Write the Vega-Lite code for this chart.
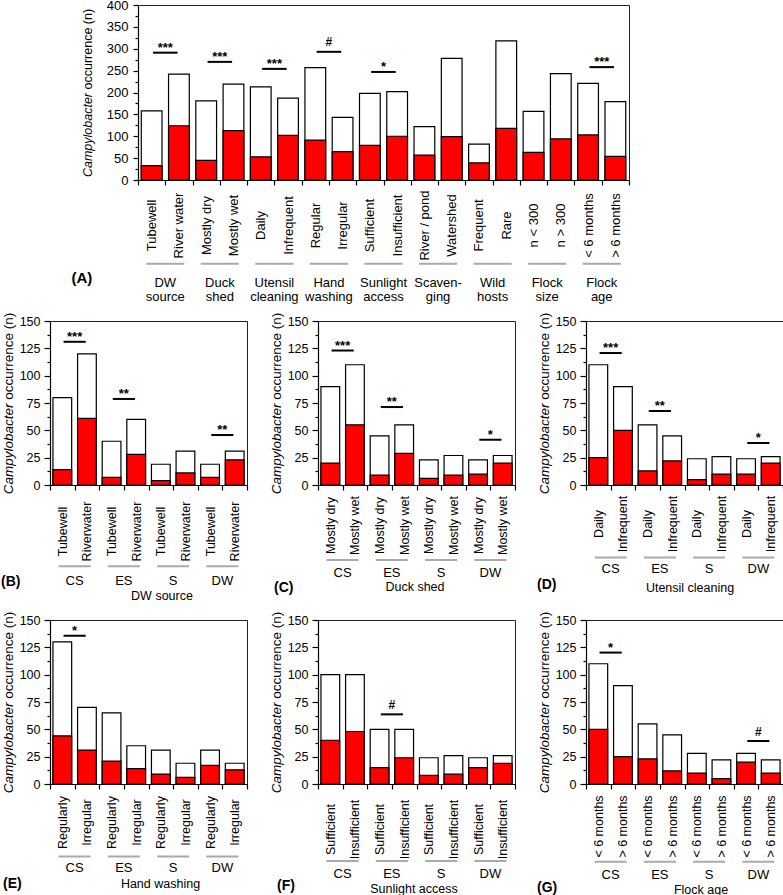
{
"$schema": "https://vega.github.io/schema/vega-lite/v6.json",
"padding": {"left": 0, "top": -2, "right": 2, "bottom": 0},
"config": {
  "font": "Liberation Sans",
  "view": {"stroke": "#222", "strokeWidth": 1},
  "axis": {"grid": false, "domainColor": "black", "tickColor": "black", "labelColor": "black", "titleColor": "black", "titleFontWeight": "normal", "domainWidth": 1.2, "tickWidth": 1.2},
  "title": {"color": "black"}
},
"datasets": {
  "bars": [
    {"p":"A","k":"01|Tubewell","t":158,"v":33},
    {"p":"A","k":"02|River water","t":242,"v":124},
    {"p":"A","k":"03|Mostly dry","t":181,"v":45},
    {"p":"A","k":"04|Mostly wet","t":219,"v":113},
    {"p":"A","k":"05|Daily","t":213,"v":53},
    {"p":"A","k":"06|Infrequent","t":187,"v":102},
    {"p":"A","k":"07|Regular","t":257,"v":91},
    {"p":"A","k":"08|Irregular","t":143,"v":65},
    {"p":"A","k":"09|Sufficient","t":198,"v":79},
    {"p":"A","k":"10|Insufficient","t":202,"v":100},
    {"p":"A","k":"11|River / pond","t":122,"v":57},
    {"p":"A","k":"12|Watershed","t":278,"v":99},
    {"p":"A","k":"13|Frequent","t":82,"v":39},
    {"p":"A","k":"14|Rare","t":318,"v":118},
    {"p":"A","k":"15|n < 300","t":157,"v":63},
    {"p":"A","k":"16|n > 300","t":243,"v":94},
    {"p":"A","k":"17|< 6 months","t":221,"v":103},
    {"p":"A","k":"18|> 6 months","t":179,"v":54},
    {"p":"B","k":"1|Tubewell","t":80,"v":14},
    {"p":"B","k":"2|Riverwater","t":120,"v":61},
    {"p":"B","k":"3|Tubewell","t":40,"v":7},
    {"p":"B","k":"4|Riverwater","t":60,"v":28},
    {"p":"B","k":"5|Tubewell","t":19,"v":4},
    {"p":"B","k":"6|Riverwater","t":31,"v":11},
    {"p":"B","k":"7|Tubewell","t":19,"v":7},
    {"p":"B","k":"8|Riverwater","t":31,"v":23},
    {"p":"C","k":"1|Mostly dry","t":90,"v":20},
    {"p":"C","k":"2|Mostly wet","t":110,"v":55},
    {"p":"C","k":"3|Mostly dry","t":45,"v":9},
    {"p":"C","k":"4|Mostly wet","t":55,"v":29},
    {"p":"C","k":"5|Mostly dry","t":23,"v":6},
    {"p":"C","k":"6|Mostly wet","t":27,"v":9},
    {"p":"C","k":"7|Mostly dry","t":23,"v":10},
    {"p":"C","k":"8|Mostly wet","t":27,"v":20},
    {"p":"D","k":"1|Daily","t":110,"v":25},
    {"p":"D","k":"2|Infrequent","t":90,"v":50},
    {"p":"D","k":"3|Daily","t":55,"v":13},
    {"p":"D","k":"4|Infrequent","t":45,"v":22},
    {"p":"D","k":"5|Daily","t":24,"v":5},
    {"p":"D","k":"6|Infrequent","t":26,"v":10},
    {"p":"D","k":"7|Daily","t":24,"v":10},
    {"p":"D","k":"8|Infrequent","t":26,"v":20},
    {"p":"E","k":"1|Regularly","t":130,"v":44},
    {"p":"E","k":"2|Irregular","t":70,"v":31},
    {"p":"E","k":"3|Regularly","t":65,"v":21},
    {"p":"E","k":"4|Irregular","t":35,"v":14},
    {"p":"E","k":"5|Regularly","t":31,"v":9},
    {"p":"E","k":"6|Irregular","t":19,"v":6},
    {"p":"E","k":"7|Regularly","t":31,"v":17},
    {"p":"E","k":"8|Irregular","t":19,"v":13},
    {"p":"F","k":"1|Sufficient","t":100,"v":40},
    {"p":"F","k":"2|Insufficient","t":100,"v":48},
    {"p":"F","k":"3|Sufficient","t":50,"v":15},
    {"p":"F","k":"4|Insufficient","t":50,"v":24},
    {"p":"F","k":"5|Sufficient","t":24,"v":8},
    {"p":"F","k":"6|Insufficient","t":26,"v":9},
    {"p":"F","k":"7|Sufficient","t":24,"v":15},
    {"p":"F","k":"8|Insufficient","t":26,"v":19},
    {"p":"G","k":"1|< 6 months","t":110,"v":50},
    {"p":"G","k":"2|> 6 months","t":90,"v":25},
    {"p":"G","k":"3|< 6 months","t":55,"v":23},
    {"p":"G","k":"4|> 6 months","t":45,"v":12},
    {"p":"G","k":"5|< 6 months","t":28,"v":10},
    {"p":"G","k":"6|> 6 months","t":22,"v":5},
    {"p":"G","k":"7|< 6 months","t":28,"v":20},
    {"p":"G","k":"8|> 6 months","t":22,"v":10}
  ],
  "groups": [
    {"p":"A","k1":"01|Tubewell","k2":"02|River water","g":"DW\nsource"},
    {"p":"A","k1":"03|Mostly dry","k2":"04|Mostly wet","g":"Duck\nshed"},
    {"p":"A","k1":"05|Daily","k2":"06|Infrequent","g":"Utensil\ncleaning"},
    {"p":"A","k1":"07|Regular","k2":"08|Irregular","g":"Hand\nwashing"},
    {"p":"A","k1":"09|Sufficient","k2":"10|Insufficient","g":"Sunlight\naccess"},
    {"p":"A","k1":"11|River / pond","k2":"12|Watershed","g":"Scaven-\nging"},
    {"p":"A","k1":"13|Frequent","k2":"14|Rare","g":"Wild\nhosts"},
    {"p":"A","k1":"15|n < 300","k2":"16|n > 300","g":"Flock\nsize"},
    {"p":"A","k1":"17|< 6 months","k2":"18|> 6 months","g":"Flock\nage"},
    {"p":"B","k1":"1|Tubewell","k2":"2|Riverwater","g":"CS"},
    {"p":"B","k1":"3|Tubewell","k2":"4|Riverwater","g":"ES"},
    {"p":"B","k1":"5|Tubewell","k2":"6|Riverwater","g":"S"},
    {"p":"B","k1":"7|Tubewell","k2":"8|Riverwater","g":"DW"},
    {"p":"C","k1":"1|Mostly dry","k2":"2|Mostly wet","g":"CS"},
    {"p":"C","k1":"3|Mostly dry","k2":"4|Mostly wet","g":"ES"},
    {"p":"C","k1":"5|Mostly dry","k2":"6|Mostly wet","g":"S"},
    {"p":"C","k1":"7|Mostly dry","k2":"8|Mostly wet","g":"DW"},
    {"p":"D","k1":"1|Daily","k2":"2|Infrequent","g":"CS"},
    {"p":"D","k1":"3|Daily","k2":"4|Infrequent","g":"ES"},
    {"p":"D","k1":"5|Daily","k2":"6|Infrequent","g":"S"},
    {"p":"D","k1":"7|Daily","k2":"8|Infrequent","g":"DW"},
    {"p":"E","k1":"1|Regularly","k2":"2|Irregular","g":"CS"},
    {"p":"E","k1":"3|Regularly","k2":"4|Irregular","g":"ES"},
    {"p":"E","k1":"5|Regularly","k2":"6|Irregular","g":"S"},
    {"p":"E","k1":"7|Regularly","k2":"8|Irregular","g":"DW"},
    {"p":"F","k1":"1|Sufficient","k2":"2|Insufficient","g":"CS"},
    {"p":"F","k1":"3|Sufficient","k2":"4|Insufficient","g":"ES"},
    {"p":"F","k1":"5|Sufficient","k2":"6|Insufficient","g":"S"},
    {"p":"F","k1":"7|Sufficient","k2":"8|Insufficient","g":"DW"},
    {"p":"G","k1":"1|< 6 months","k2":"2|> 6 months","g":"CS"},
    {"p":"G","k1":"3|< 6 months","k2":"4|> 6 months","g":"ES"},
    {"p":"G","k1":"5|< 6 months","k2":"6|> 6 months","g":"S"},
    {"p":"G","k1":"7|< 6 months","k2":"8|> 6 months","g":"DW"}
  ],
  "sig": [
    {"p":"A","k1":"01|Tubewell","k2":"02|River water","y":291,"s":"***"},
    {"p":"A","k1":"03|Mostly dry","k2":"04|Mostly wet","y":270,"s":"***"},
    {"p":"A","k1":"05|Daily","k2":"06|Infrequent","y":254,"s":"***"},
    {"p":"A","k1":"07|Regular","k2":"08|Irregular","y":293,"s":"#"},
    {"p":"A","k1":"09|Sufficient","k2":"10|Insufficient","y":247,"s":"*"},
    {"p":"A","k1":"17|< 6 months","k2":"18|> 6 months","y":258,"s":"***"},
    {"p":"B","k1":"1|Tubewell","k2":"2|Riverwater","y":131,"s":"***"},
    {"p":"B","k1":"3|Tubewell","k2":"4|Riverwater","y":78.7,"s":"**"},
    {"p":"B","k1":"7|Tubewell","k2":"8|Riverwater","y":45.7,"s":"**"},
    {"p":"C","k1":"1|Mostly dry","k2":"2|Mostly wet","y":123,"s":"***"},
    {"p":"C","k1":"3|Mostly dry","k2":"4|Mostly wet","y":71.3,"s":"**"},
    {"p":"C","k1":"7|Mostly dry","k2":"8|Mostly wet","y":41.4,"s":"*"},
    {"p":"D","k1":"1|Daily","k2":"2|Infrequent","y":120.7,"s":"***"},
    {"p":"D","k1":"3|Daily","k2":"4|Infrequent","y":67.7,"s":"**"},
    {"p":"D","k1":"7|Daily","k2":"8|Infrequent","y":38.4,"s":"*"},
    {"p":"E","k1":"1|Regularly","k2":"2|Irregular","y":135.6,"s":"*"},
    {"p":"F","k1":"3|Sufficient","k2":"4|Insufficient","y":63.7,"s":"#"},
    {"p":"G","k1":"1|< 6 months","k2":"2|> 6 months","y":120.2,"s":"*"},
    {"p":"G","k1":"7|< 6 months","k2":"8|> 6 months","y":39.3,"s":"#"}
  ]
},
"bounds": "flush",
"spacing": 316,
"vconcat": [
 {
  "hconcat": [
   {"width": 78, "height": 175, "data": {"values": []}, "mark": "point", "encoding": {}, "view": {"stroke": null}},
   {
    "width": 491, "height": 175,
    "title": {"text": "(A)", "orient": "bottom", "anchor": "start", "frame": "bounds", "offset": 0, "dx": -10, "dy": -33, "fontSize": 15, "fontWeight": "bold"},
    "resolve": {"axis": {"y": "independent"}},
    "layer": [
     {"data": {"name": "bars"}, "transform": [{"filter": "datum.p==='A'"}],
      "mark": {"type": "bar", "fill": "white", "stroke": "black", "strokeWidth": 1.2, "width": {"band": 0.76}},
      "encoding": {
       "x": {"field": "k", "type": "nominal", "scale": {"paddingInner": 0, "paddingOuter": 0},
             "axis": {"title": null, "labelExpr": "split(datum.value,'|')[1]", "labelAngle": -90, "labelAlign": "center", "labelBaseline": "middle", "labelPadding": 40, "tickSize": 5, "tickBand": "extent", "labelFontSize": 13}},
       "y": {"field": "t", "type": "quantitative", "scale": {"domain": [0, 400], "nice": false},
             "axis": {"title": "occurrence (n)", "values": [0,50,100,150,200,250,300,350,400], "tickSize": 5, "labelPadding": 5, "labelFontSize": 13, "titleFontSize": 12.5, "titleX": -43.5, "titleY": 43.7}}
      }},
     {"data": {"name": "bars"}, "transform": [{"filter": "datum.p==='A'"}],
      "mark": {"type": "bar", "fill": "#ff0000", "stroke": "black", "strokeWidth": 1.2, "width": {"band": 0.76}},
      "encoding": {
       "x": {"field": "k", "type": "nominal"},
       "y": {"field": "v", "type": "quantitative", "scale": {"domain": [0, 400], "nice": false},
             "axis": {"orient": "left", "values": [25,75,125,175,225,275,325,375], "tickSize": 3, "labels": false, "domain": false, "title": "Campylobacter", "titleFontStyle": "italic", "titleFontSize": 12.5, "titleX": -43.5, "titleY": 129.5}}
      }},
     {"data": {"name": "sig"}, "transform": [{"filter": "datum.p==='A'"}],
      "mark": {"type": "rule", "stroke": "black", "strokeWidth": 2},
      "encoding": {"x": {"field": "k1", "type": "nominal", "bandPosition": 0.55}, "x2": {"field": "k2", "bandPosition": 0.45}, "y": {"field": "y", "type": "quantitative", "axis": null}}},
     {"data": {"name": "sig"}, "transform": [{"filter": "datum.p==='A' && datum.s!=='#'"}],
      "mark": {"type": "text", "fontSize": 13, "fontWeight": "bold", "baseline": "alphabetic", "dy": -1},
      "encoding": {"x": {"field": "k1", "type": "nominal", "bandPosition": 1}, "y": {"field": "y", "type": "quantitative", "axis": null}, "text": {"field": "s"}}},
     {"data": {"name": "sig"}, "transform": [{"filter": "datum.p==='A' && datum.s==='#'"}],
      "mark": {"type": "text", "fontSize": 12, "fontWeight": "bold", "baseline": "alphabetic", "dy": -6},
      "encoding": {"x": {"field": "k1", "type": "nominal", "bandPosition": 1}, "y": {"field": "y", "type": "quantitative", "axis": null}, "text": {"field": "s"}}},
     {"data": {"name": "groups"}, "transform": [{"filter": "datum.p==='A'"}],
      "mark": {"type": "rule", "stroke": "#aaaaaa", "strokeWidth": 2},
      "encoding": {"x": {"field": "k1", "type": "nominal", "bandPosition": 0.3}, "x2": {"field": "k2", "bandPosition": 0.7}, "y": {"datum": -191.3, "axis": null}}},
     {"data": {"name": "groups"}, "transform": [{"filter": "datum.p==='A'"}],
      "mark": {"type": "text", "fontSize": 13, "baseline": "middle", "lineBreak": "\n", "lineHeight": 14},
      "encoding": {"x": {"field": "k1", "type": "nominal", "bandPosition": 1}, "y": {"datum": -235.4, "axis": null}, "text": {"field": "g"}}}
    ]
   }
  ],
  "spacing": 10,
  "bounds": "flush"
 },
 {
  "bounds": "flush",
  "spacing": 299,
  "vconcat": [
   {
    "bounds": "flush",
    "spacing": 71,
    "hconcat": [
     {
      "width": 197, "height": 164,
      "title": {"text": "(B)", "orient": "bottom", "anchor": "start", "frame": "bounds", "offset": 0, "dx": 0, "dy": -27, "fontSize": 14, "fontWeight": "bold"},
      "resolve": {"axis": {"y": "independent"}},
      "layer": [
       {"data": {"name": "bars"}, "transform": [{"filter": "datum.p==='B'"}],
        "mark": {"type": "bar", "fill": "white", "stroke": "black", "strokeWidth": 1.2, "width": {"band": 0.76}},
        "encoding": {
         "x": {"field": "k", "type": "nominal", "scale": {"paddingInner": 0, "paddingOuter": 0},
               "axis": {"title": "DW source", "labelExpr": "split(datum.value,'|')[1]", "labelAngle": -90, "labelAlign": "center", "labelBaseline": "middle", "labelPadding": 41, "tickSize": 5, "tickBand": "extent", "labelFontSize": 12.5, "titleFontSize": 12.5, "titleX": 111.5, "titleY": 104.5}},
         "y": {"field": "t", "type": "quantitative", "scale": {"domain": [0, 150], "nice": false},
               "axis": {"title": "occurrence (n)", "values": [0,25,50,75,100,125,150], "tickSize": 6, "labelPadding": 4, "labelFontSize": 12.5, "titleFontSize": 13.5, "titleX": -35, "titleY": 34.7}}
        }},
       {"data": {"name": "bars"}, "transform": [{"filter": "datum.p==='B'"}],
        "mark": {"type": "bar", "fill": "#ff0000", "stroke": "black", "strokeWidth": 1.2, "width": {"band": 0.76}},
        "encoding": {
         "x": {"field": "k", "type": "nominal"},
         "y": {"field": "v", "type": "quantitative", "scale": {"domain": [0, 150], "nice": false},
               "axis": {"orient": "left", "values": [12.5,37.5,62.5,87.5,112.5,137.5], "tickSize": 3, "labels": false, "domain": false, "title": "Campylobacter", "titleFontStyle": "italic", "titleFontSize": 13.5, "titleX": -35, "titleY": 127.4}}
        }},
       {"data": {"name": "sig"}, "transform": [{"filter": "datum.p==='B'"}],
        "mark": {"type": "rule", "stroke": "black", "strokeWidth": 2},
        "encoding": {"x": {"field": "k1", "type": "nominal", "bandPosition": 0.55}, "x2": {"field": "k2", "bandPosition": 0.45}, "y": {"field": "y", "type": "quantitative", "axis": null}}},
       {"data": {"name": "sig"}, "transform": [{"filter": "datum.p==='B' && datum.s!=='#'"}],
        "mark": {"type": "text", "fontSize": 13, "fontWeight": "bold", "baseline": "alphabetic", "dy": -1},
        "encoding": {"x": {"field": "k1", "type": "nominal", "bandPosition": 1}, "y": {"field": "y", "type": "quantitative", "axis": null}, "text": {"field": "s"}}},
       {"data": {"name": "groups"}, "transform": [{"filter": "datum.p==='B'"}],
        "mark": {"type": "rule", "stroke": "#aaaaaa", "strokeWidth": 2},
        "encoding": {"x": {"field": "k1", "type": "nominal", "bandPosition": 0.35}, "x2": {"field": "k2", "bandPosition": 0.65}, "y": {"datum": -74.4, "axis": null}}},
       {"data": {"name": "groups"}, "transform": [{"filter": "datum.p==='B'"}],
        "mark": {"type": "text", "fontSize": 13, "baseline": "middle"},
        "encoding": {"x": {"field": "k1", "type": "nominal", "bandPosition": 1}, "y": {"datum": -87.5, "axis": null}, "text": {"field": "g"}}}
      ]
     },
     {
      "width": 197, "height": 164,
      "title": {"text": "(C)", "orient": "bottom", "anchor": "start", "frame": "bounds", "offset": 0, "dx": 5, "dy": -12, "fontSize": 14, "fontWeight": "bold"},
      "resolve": {"axis": {"y": "independent"}},
      "layer": [
       {"data": {"name": "bars"}, "transform": [{"filter": "datum.p==='C'"}],
        "mark": {"type": "bar", "fill": "white", "stroke": "black", "strokeWidth": 1.2, "width": {"band": 0.76}},
        "encoding": {
         "x": {"field": "k", "type": "nominal", "scale": {"paddingInner": 0, "paddingOuter": 0},
               "axis": {"title": "Duck shed", "labelExpr": "split(datum.value,'|')[1]", "labelAngle": -90, "labelAlign": "center", "labelBaseline": "middle", "labelPadding": 35, "tickSize": 5, "tickBand": "extent", "labelFontSize": 12.5, "titleFontSize": 12.5, "titleX": 96.5, "titleY": 95.8}},
         "y": {"field": "t", "type": "quantitative", "scale": {"domain": [0, 150], "nice": false},
               "axis": {"title": "occurrence (n)", "values": [0,25,50,75,100,125,150], "tickSize": 6, "labelPadding": 4, "labelFontSize": 12.5, "titleFontSize": 13.5, "titleX": -35, "titleY": 34.7}}
        }},
       {"data": {"name": "bars"}, "transform": [{"filter": "datum.p==='C'"}],
        "mark": {"type": "bar", "fill": "#ff0000", "stroke": "black", "strokeWidth": 1.2, "width": {"band": 0.76}},
        "encoding": {
         "x": {"field": "k", "type": "nominal"},
         "y": {"field": "v", "type": "quantitative", "scale": {"domain": [0, 150], "nice": false},
               "axis": {"orient": "left", "values": [12.5,37.5,62.5,87.5,112.5,137.5], "tickSize": 3, "labels": false, "domain": false, "title": "Campylobacter", "titleFontStyle": "italic", "titleFontSize": 13.5, "titleX": -35, "titleY": 127.4}}
        }},
       {"data": {"name": "sig"}, "transform": [{"filter": "datum.p==='C'"}],
        "mark": {"type": "rule", "stroke": "black", "strokeWidth": 2},
        "encoding": {"x": {"field": "k1", "type": "nominal", "bandPosition": 0.55}, "x2": {"field": "k2", "bandPosition": 0.45}, "y": {"field": "y", "type": "quantitative", "axis": null}}},
       {"data": {"name": "sig"}, "transform": [{"filter": "datum.p==='C' && datum.s!=='#'"}],
        "mark": {"type": "text", "fontSize": 13, "fontWeight": "bold", "baseline": "alphabetic", "dy": -1},
        "encoding": {"x": {"field": "k1", "type": "nominal", "bandPosition": 1}, "y": {"field": "y", "type": "quantitative", "axis": null}, "text": {"field": "s"}}},
       {"data": {"name": "groups"}, "transform": [{"filter": "datum.p==='C'"}],
        "mark": {"type": "rule", "stroke": "#aaaaaa", "strokeWidth": 2},
        "encoding": {"x": {"field": "k1", "type": "nominal", "bandPosition": 0.35}, "x2": {"field": "k2", "bandPosition": 0.65}, "y": {"datum": -68.6, "axis": null}}},
       {"data": {"name": "groups"}, "transform": [{"filter": "datum.p==='C'"}],
        "mark": {"type": "text", "fontSize": 13, "baseline": "middle"},
        "encoding": {"x": {"field": "k1", "type": "nominal", "bandPosition": 1}, "y": {"datum": -80.2, "axis": null}, "text": {"field": "g"}}}
      ]
     },
     {
      "width": 197, "height": 164,
      "title": {"text": "(D)", "orient": "bottom", "anchor": "start", "frame": "bounds", "offset": 0, "dx": 0, "dy": -16, "fontSize": 14, "fontWeight": "bold"},
      "resolve": {"axis": {"y": "independent"}},
      "layer": [
       {"data": {"name": "bars"}, "transform": [{"filter": "datum.p==='D'"}],
        "mark": {"type": "bar", "fill": "white", "stroke": "black", "strokeWidth": 1.2, "width": {"band": 0.76}},
        "encoding": {
         "x": {"field": "k", "type": "nominal", "scale": {"paddingInner": 0, "paddingOuter": 0},
               "axis": {"title": "Utensil cleaning", "labelExpr": "split(datum.value,'|')[1]", "labelAngle": -90, "labelAlign": "center", "labelBaseline": "middle", "labelPadding": 33.5, "tickSize": 5, "tickBand": "extent", "labelFontSize": 12.5, "titleFontSize": 12.5, "titleX": 103.5, "titleY": 96.5}},
         "y": {"field": "t", "type": "quantitative", "scale": {"domain": [0, 150], "nice": false},
               "axis": {"title": "occurrence (n)", "values": [0,25,50,75,100,125,150], "tickSize": 6, "labelPadding": 4, "labelFontSize": 12.5, "titleFontSize": 13.5, "titleX": -35, "titleY": 34.7}}
        }},
       {"data": {"name": "bars"}, "transform": [{"filter": "datum.p==='D'"}],
        "mark": {"type": "bar", "fill": "#ff0000", "stroke": "black", "strokeWidth": 1.2, "width": {"band": 0.76}},
        "encoding": {
         "x": {"field": "k", "type": "nominal"},
         "y": {"field": "v", "type": "quantitative", "scale": {"domain": [0, 150], "nice": false},
               "axis": {"orient": "left", "values": [12.5,37.5,62.5,87.5,112.5,137.5], "tickSize": 3, "labels": false, "domain": false, "title": "Campylobacter", "titleFontStyle": "italic", "titleFontSize": 13.5, "titleX": -35, "titleY": 127.4}}
        }},
       {"data": {"name": "sig"}, "transform": [{"filter": "datum.p==='D'"}],
        "mark": {"type": "rule", "stroke": "black", "strokeWidth": 2},
        "encoding": {"x": {"field": "k1", "type": "nominal", "bandPosition": 0.55}, "x2": {"field": "k2", "bandPosition": 0.45}, "y": {"field": "y", "type": "quantitative", "axis": null}}},
       {"data": {"name": "sig"}, "transform": [{"filter": "datum.p==='D' && datum.s!=='#'"}],
        "mark": {"type": "text", "fontSize": 13, "fontWeight": "bold", "baseline": "alphabetic", "dy": -1},
        "encoding": {"x": {"field": "k1", "type": "nominal", "bandPosition": 1}, "y": {"field": "y", "type": "quantitative", "axis": null}, "text": {"field": "s"}}},
       {"data": {"name": "groups"}, "transform": [{"filter": "datum.p==='D'"}],
        "mark": {"type": "rule", "stroke": "#aaaaaa", "strokeWidth": 2},
        "encoding": {"x": {"field": "k1", "type": "nominal", "bandPosition": 0.35}, "x2": {"field": "k2", "bandPosition": 0.65}, "y": {"datum": -66.2, "axis": null}}},
       {"data": {"name": "groups"}, "transform": [{"filter": "datum.p==='D'"}],
        "mark": {"type": "text", "fontSize": 13, "baseline": "middle"},
        "encoding": {"x": {"field": "k1", "type": "nominal", "bandPosition": 1}, "y": {"datum": -76.5, "axis": null}, "text": {"field": "g"}}}
      ]
     }
    ]
   },
   {
    "bounds": "flush",
    "spacing": 71,
    "hconcat": [
     {
      "width": 197, "height": 164,
      "title": {"text": "(E)", "orient": "bottom", "anchor": "start", "frame": "bounds", "offset": 0, "dx": 2, "dy": -13, "fontSize": 14, "fontWeight": "bold"},
      "resolve": {"axis": {"y": "independent"}},
      "layer": [
       {"data": {"name": "bars"}, "transform": [{"filter": "datum.p==='E'"}],
        "mark": {"type": "bar", "fill": "white", "stroke": "black", "strokeWidth": 1.2, "width": {"band": 0.76}},
        "encoding": {
         "x": {"field": "k", "type": "nominal", "scale": {"paddingInner": 0, "paddingOuter": 0},
               "axis": {"title": "Hand washing", "labelExpr": "split(datum.value,'|')[1]", "labelAngle": -90, "labelAlign": "center", "labelBaseline": "middle", "labelPadding": 33, "tickSize": 5, "tickBand": "extent", "labelFontSize": 12.5, "titleFontSize": 12.5, "titleX": 110, "titleY": 93.5}},
         "y": {"field": "t", "type": "quantitative", "scale": {"domain": [0, 150], "nice": false},
               "axis": {"title": "occurrence (n)", "values": [0,25,50,75,100,125,150], "tickSize": 6, "labelPadding": 4, "labelFontSize": 12.5, "titleFontSize": 13.5, "titleX": -35, "titleY": 34.7}}
        }},
       {"data": {"name": "bars"}, "transform": [{"filter": "datum.p==='E'"}],
        "mark": {"type": "bar", "fill": "#ff0000", "stroke": "black", "strokeWidth": 1.2, "width": {"band": 0.76}},
        "encoding": {
         "x": {"field": "k", "type": "nominal"},
         "y": {"field": "v", "type": "quantitative", "scale": {"domain": [0, 150], "nice": false},
               "axis": {"orient": "left", "values": [12.5,37.5,62.5,87.5,112.5,137.5], "tickSize": 3, "labels": false, "domain": false, "title": "Campylobacter", "titleFontStyle": "italic", "titleFontSize": 13.5, "titleX": -35, "titleY": 127.4}}
        }},
       {"data": {"name": "sig"}, "transform": [{"filter": "datum.p==='E'"}],
        "mark": {"type": "rule", "stroke": "black", "strokeWidth": 2},
        "encoding": {"x": {"field": "k1", "type": "nominal", "bandPosition": 0.55}, "x2": {"field": "k2", "bandPosition": 0.45}, "y": {"field": "y", "type": "quantitative", "axis": null}}},
       {"data": {"name": "sig"}, "transform": [{"filter": "datum.p==='E' && datum.s!=='#'"}],
        "mark": {"type": "text", "fontSize": 13, "fontWeight": "bold", "baseline": "alphabetic", "dy": -1},
        "encoding": {"x": {"field": "k1", "type": "nominal", "bandPosition": 1}, "y": {"field": "y", "type": "quantitative", "axis": null}, "text": {"field": "s"}}},
       {"data": {"name": "groups"}, "transform": [{"filter": "datum.p==='E'"}],
        "mark": {"type": "rule", "stroke": "#aaaaaa", "strokeWidth": 2},
        "encoding": {"x": {"field": "k1", "type": "nominal", "bandPosition": 0.35}, "x2": {"field": "k2", "bandPosition": 0.65}, "y": {"datum": -66.2, "axis": null}}},
       {"data": {"name": "groups"}, "transform": [{"filter": "datum.p==='E'"}],
        "mark": {"type": "text", "fontSize": 13, "baseline": "middle"},
        "encoding": {"x": {"field": "k1", "type": "nominal", "bandPosition": 1}, "y": {"datum": -76.8, "axis": null}, "text": {"field": "g"}}}
      ]
     },
     {
      "width": 197, "height": 164,
      "title": {"text": "(F)", "orient": "bottom", "anchor": "start", "frame": "bounds", "offset": 0, "dx": 8, "dy": -16, "fontSize": 14, "fontWeight": "bold"},
      "resolve": {"axis": {"y": "independent"}},
      "layer": [
       {"data": {"name": "bars"}, "transform": [{"filter": "datum.p==='F'"}],
        "mark": {"type": "bar", "fill": "white", "stroke": "black", "strokeWidth": 1.2, "width": {"band": 0.76}},
        "encoding": {
         "x": {"field": "k", "type": "nominal", "scale": {"paddingInner": 0, "paddingOuter": 0},
               "axis": {"title": "Sunlight access", "labelExpr": "split(datum.value,'|')[1]", "labelAngle": -90, "labelAlign": "center", "labelBaseline": "middle", "labelPadding": 40, "tickSize": 5, "tickBand": "extent", "labelFontSize": 12.5, "titleFontSize": 12.5, "titleX": 95.5, "titleY": 98.5}},
         "y": {"field": "t", "type": "quantitative", "scale": {"domain": [0, 150], "nice": false},
               "axis": {"title": "occurrence (n)", "values": [0,25,50,75,100,125,150], "tickSize": 6, "labelPadding": 4, "labelFontSize": 12.5, "titleFontSize": 13.5, "titleX": -35, "titleY": 34.7}}
        }},
       {"data": {"name": "bars"}, "transform": [{"filter": "datum.p==='F'"}],
        "mark": {"type": "bar", "fill": "#ff0000", "stroke": "black", "strokeWidth": 1.2, "width": {"band": 0.76}},
        "encoding": {
         "x": {"field": "k", "type": "nominal"},
         "y": {"field": "v", "type": "quantitative", "scale": {"domain": [0, 150], "nice": false},
               "axis": {"orient": "left", "values": [12.5,37.5,62.5,87.5,112.5,137.5], "tickSize": 3, "labels": false, "domain": false, "title": "Campylobacter", "titleFontStyle": "italic", "titleFontSize": 13.5, "titleX": -35, "titleY": 127.4}}
        }},
       {"data": {"name": "sig"}, "transform": [{"filter": "datum.p==='F'"}],
        "mark": {"type": "rule", "stroke": "black", "strokeWidth": 2},
        "encoding": {"x": {"field": "k1", "type": "nominal", "bandPosition": 0.55}, "x2": {"field": "k2", "bandPosition": 0.45}, "y": {"field": "y", "type": "quantitative", "axis": null}}},
       {"data": {"name": "sig"}, "transform": [{"filter": "datum.p==='F' && datum.s==='#'"}],
        "mark": {"type": "text", "fontSize": 12, "fontWeight": "bold", "baseline": "alphabetic", "dy": -5},
        "encoding": {"x": {"field": "k1", "type": "nominal", "bandPosition": 1}, "y": {"field": "y", "type": "quantitative", "axis": null}, "text": {"field": "s"}}},
       {"data": {"name": "groups"}, "transform": [{"filter": "datum.p==='F'"}],
        "mark": {"type": "rule", "stroke": "#aaaaaa", "strokeWidth": 2},
        "encoding": {"x": {"field": "k1", "type": "nominal", "bandPosition": 0.35}, "x2": {"field": "k2", "bandPosition": 0.65}, "y": {"datum": -70.4, "axis": null}}},
       {"data": {"name": "groups"}, "transform": [{"filter": "datum.p==='F'"}],
        "mark": {"type": "text", "fontSize": 13, "baseline": "middle"},
        "encoding": {"x": {"field": "k1", "type": "nominal", "bandPosition": 1}, "y": {"datum": -82.7, "axis": null}, "text": {"field": "g"}}}
      ]
     },
     {
      "width": 197, "height": 164,
      "title": {"text": "(G)", "orient": "bottom", "anchor": "start", "frame": "bounds", "offset": 0, "dx": 0, "dy": -15, "fontSize": 14, "fontWeight": "bold"},
      "resolve": {"axis": {"y": "independent"}},
      "layer": [
       {"data": {"name": "bars"}, "transform": [{"filter": "datum.p==='G'"}],
        "mark": {"type": "bar", "fill": "white", "stroke": "black", "strokeWidth": 1.2, "width": {"band": 0.76}},
        "encoding": {
         "x": {"field": "k", "type": "nominal", "scale": {"paddingInner": 0, "paddingOuter": 0},
               "axis": {"title": "Flock age", "labelExpr": "split(datum.value,'|')[1]", "labelAngle": -90, "labelAlign": "center", "labelBaseline": "middle", "labelPadding": 37, "tickSize": 5, "tickBand": "extent", "labelFontSize": 12.5, "titleFontSize": 12.5, "titleX": 114.5, "titleY": 99}},
         "y": {"field": "t", "type": "quantitative", "scale": {"domain": [0, 150], "nice": false},
               "axis": {"title": "occurrence (n)", "values": [0,25,50,75,100,125,150], "tickSize": 6, "labelPadding": 4, "labelFontSize": 12.5, "titleFontSize": 13.5, "titleX": -35, "titleY": 34.7}}
        }},
       {"data": {"name": "bars"}, "transform": [{"filter": "datum.p==='G'"}],
        "mark": {"type": "bar", "fill": "#ff0000", "stroke": "black", "strokeWidth": 1.2, "width": {"band": 0.76}},
        "encoding": {
         "x": {"field": "k", "type": "nominal"},
         "y": {"field": "v", "type": "quantitative", "scale": {"domain": [0, 150], "nice": false},
               "axis": {"orient": "left", "values": [12.5,37.5,62.5,87.5,112.5,137.5], "tickSize": 3, "labels": false, "domain": false, "title": "Campylobacter", "titleFontStyle": "italic", "titleFontSize": 13.5, "titleX": -35, "titleY": 127.4}}
        }},
       {"data": {"name": "sig"}, "transform": [{"filter": "datum.p==='G'"}],
        "mark": {"type": "rule", "stroke": "black", "strokeWidth": 2},
        "encoding": {"x": {"field": "k1", "type": "nominal", "bandPosition": 0.55}, "x2": {"field": "k2", "bandPosition": 0.45}, "y": {"field": "y", "type": "quantitative", "axis": null}}},
       {"data": {"name": "sig"}, "transform": [{"filter": "datum.p==='G' && datum.s!=='#'"}],
        "mark": {"type": "text", "fontSize": 13, "fontWeight": "bold", "baseline": "alphabetic", "dy": -1},
        "encoding": {"x": {"field": "k1", "type": "nominal", "bandPosition": 1}, "y": {"field": "y", "type": "quantitative", "axis": null}, "text": {"field": "s"}}},
       {"data": {"name": "sig"}, "transform": [{"filter": "datum.p==='G' && datum.s==='#'"}],
        "mark": {"type": "text", "fontSize": 12, "fontWeight": "bold", "baseline": "alphabetic", "dy": -5},
        "encoding": {"x": {"field": "k1", "type": "nominal", "bandPosition": 1}, "y": {"field": "y", "type": "quantitative", "axis": null}, "text": {"field": "s"}}},
       {"data": {"name": "groups"}, "transform": [{"filter": "datum.p==='G'"}],
        "mark": {"type": "rule", "stroke": "#aaaaaa", "strokeWidth": 2},
        "encoding": {"x": {"field": "k1", "type": "nominal", "bandPosition": 0.35}, "x2": {"field": "k2", "bandPosition": 0.65}, "y": {"datum": -71, "axis": null}}},
       {"data": {"name": "groups"}, "transform": [{"filter": "datum.p==='G'"}],
        "mark": {"type": "text", "fontSize": 13, "baseline": "middle"},
        "encoding": {"x": {"field": "k1", "type": "nominal", "bandPosition": 1}, "y": {"datum": -83, "axis": null}, "text": {"field": "g"}}}
      ]
     }
    ]
   }
  ]
 }
]
}
